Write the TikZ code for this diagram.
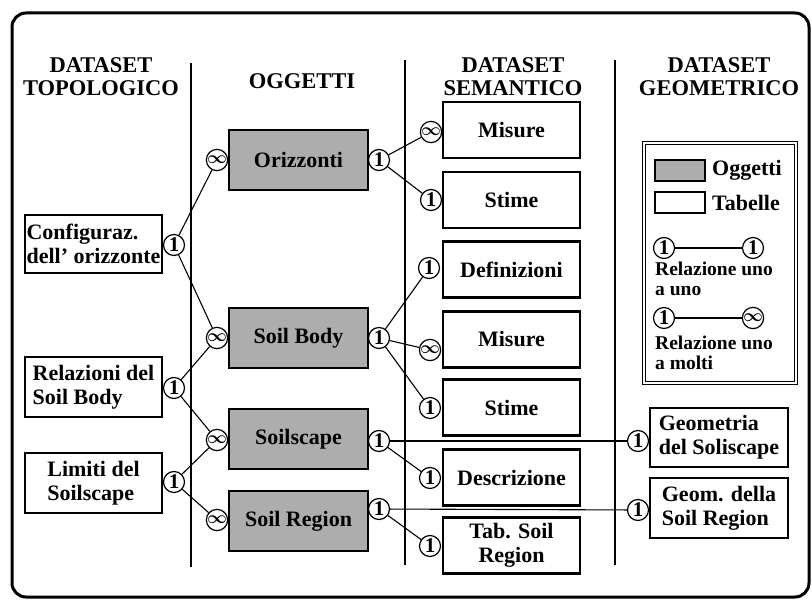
\documentclass[tikz,border=0pt]{standalone}
\usepackage{fontspec}
\setmainfont{Liberation Serif}
\usetikzlibrary{positioning}

\begin{document}
\begin{tikzpicture}[x=1pt,y=-1pt,font=\fontsize{22}{24}\selectfont\bfseries,
  bx/.style={draw,line width=2.4pt,fill=#1,minimum width=137pt,minimum height=56pt,inner sep=1.5pt,align=center},
  bx/.default=white,
  ogg/.style={bx=black!32,minimum width=139pt,minimum height=60pt},
  rel/.style={circle,draw,line width=1.2pt,fill=white,minimum size=21pt,inner sep=0pt},
  one/.style={rel,font=\fontsize{21}{21}\selectfont\bfseries},
  many/.style={rel,font=\fontsize{19}{19}\selectfont\boldmath},
  hd/.style={align=center,font=\fontsize{22.5}{23}\selectfont\bfseries},
  sep/.style={line width=2pt},
  lnk/.style={line width=1.1pt}]
\useasboundingbox (0,0) rectangle (812,602);
\draw[line width=3pt,rounded corners=14pt] (12,13) rectangle (809,597);

% column headers and separators
\node[hd] (htopo) at (101,77) {DATASET\\TOPOLOGICO};
\node[hd] (hogg) at (302,81) {OGGETTI};
\node[hd] (hsem) at (513,77) {DATASET\\SEMANTICO};
\node[hd] (hgeo) at (719,77) {DATASET\\GEOMETRICO};
\draw[sep] (191,63) -- (191,567);
\draw[sep] (405,60) -- (405,565);
\draw[sep] (615,60) -- (615,565);

% dataset topologico
\node[bx,align=left,minimum height=58pt] (conf) at (93.5,244) {Configuraz.\\dell' orizzonte};
\node[bx,align=left,minimum height=60pt] (relsb) at (93.5,387) {Relazioni del\\Soil Body};
\node[bx,align=left,minimum height=60pt] (limss) at (93.5,483) {Limiti del\\Soilscape};
\node[one] (conf-r) at (174,245) {1};
\node[one] (relsb-r) at (174,388) {1};
\node[one] (limss-r) at (174,482) {1};

% oggetti
\node[ogg] (oriz) at (298.5,160) {Orizzonti};
\node[ogg] (sbody) at (298.5,338) {Soil Body};
\node[ogg] (sscape) at (298.5,439) {Soilscape};
\node[ogg] (sregion) at (298.5,521) {Soil Region};
\node[many] (oriz-l) at (217,160) {$\infty$};
\node[many] (sbody-l) at (217,338) {$\infty$};
\node[many] (sscape-l) at (217,440) {$\infty$};
\node[many] (sregion-l) at (217,520) {$\infty$};
\node[one] (oriz-r) at (379,160) {1};
\node[one] (sbody-r) at (379,338) {1};
\node[one] (sscape-r) at (379,441) {1};
\node[one] (sregion-r) at (379,509) {1};

% dataset semantico
\node[bx] (mis1) at (511.5,130) {Misure};
\node[bx] (sti1) at (511.5,200) {Stime};
\node[bx] (defin) at (511.5,269.5) {Definizioni};
\node[bx] (mis2) at (511.5,339.5) {Misure};
\node[bx] (sti2) at (511.5,407.5) {Stime};
\node[bx] (descr) at (511.5,477.5) {Descrizione};
\node[bx] (tabsr) at (511.5,545.5) {Tab. Soil\\Region};
\node[many] (mis1-l) at (431,132) {$\infty$};
\node[one] (sti1-l) at (431,200) {1};
\node[one] (defin-l) at (429,268) {1};
\node[many] (mis2-l) at (430,350) {$\infty$};
\node[one] (sti2-l) at (430,408) {1};
\node[one] (descr-l) at (430,478) {1};
\node[one] (tabsr-l) at (430,546) {1};

% dataset geometrico
\node[bx,align=left,minimum width=138pt,minimum height=59pt] (geoss) at (719,437.5) {Geometria\\del Soliscape};
\node[bx,align=left,minimum width=138pt,minimum height=60pt] (geosr) at (719,508) {Geom. della\\Soil Region};
\node[one] (geoss-l) at (638,441) {1};
\node[one] (geosr-l) at (638,510) {1};

% legenda
\node[draw,double,double distance=2pt,line width=1pt,minimum width=152pt,minimum height=240pt] (legend) at (719.5,262.5) {};
\node[bx=black!32,minimum width=50pt,minimum height=21pt,line width=2pt] (lg-ogg) at (680,170.5) {};
\node[right=5pt of lg-ogg,inner sep=1pt] (lg-oggt) {Oggetti};
\node[bx,minimum width=50pt,minimum height=21pt,line width=2pt] (lg-tab) at (680,202.5) {};
\node[right=5pt of lg-tab,inner sep=1pt] (lg-tabt) {Tabelle};
\node[one] (lg1a) at (664,248) {1};
\node[one] (lg1b) at (753,248) {1};
\node[anchor=west,align=left,inner sep=1pt,font=\fontsize{19.5}{20}\selectfont\bfseries] (lg1t) at (654,279) {Relazione uno\\a uno};
\node[one] (lg2a) at (664,318) {1};
\node[many] (lg2b) at (753,318) {$\infty$};
\node[anchor=west,align=left,inner sep=1pt,font=\fontsize{19.5}{20}\selectfont\bfseries] (lg2t) at (654,353) {Relazione uno\\a molti};

\foreach \a/\b in {conf-r/oriz-l,conf-r/sbody-l,relsb-r/sbody-l,relsb-r/sscape-l,limss-r/sscape-l,limss-r/sregion-l,
  oriz-r/mis1-l,oriz-r/sti1-l,sbody-r/defin-l,sbody-r/mis2-l,sbody-r/sti2-l,sscape-r/geoss-l,sscape-r/descr-l,
  sregion-r/geosr-l,sregion-r/tabsr-l,lg1a/lg1b,lg2a/lg2b} \draw[lnk] (\a) -- (\b);
\end{tikzpicture}
\end{document}
